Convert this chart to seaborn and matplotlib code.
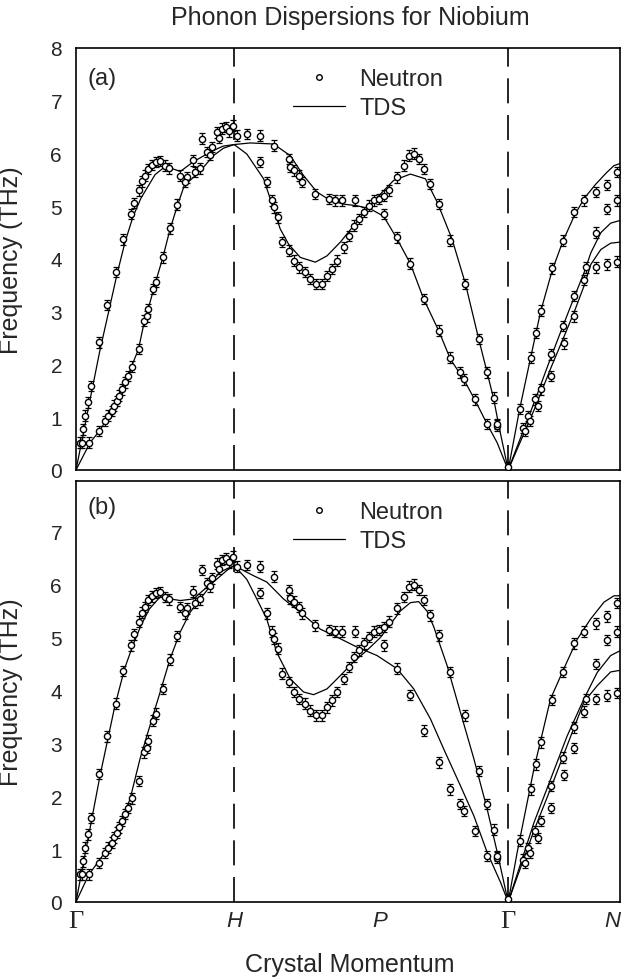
import numpy as np
import pandas as pd
import matplotlib
matplotlib.use("Agg")
import matplotlib.pyplot as plt
import seaborn as sns
from matplotlib.lines import Line2D

# symmetry points along the bcc path (units of 2pi/a)
sym_pos = [0.0, 1.0, 1.92, 2.732, 3.439]
sym_labels = ["Γ", "H", "P", "Γ", "N"]
dash_pos = [1.0, 2.732]

# ---- neutron data (same set in both panels) ----
gh_t_x = [0.025, 0.046, 0.057, 0.078, 0.093, 0.148, 0.198, 0.253, 0.300, 0.348, 0.369, 0.401,
          0.416, 0.437, 0.458, 0.479, 0.506, 0.532, 0.563, 0.591]
gh_t_y = [0.52, 0.77, 1.03, 1.28, 1.59, 2.42, 3.13, 3.75, 4.37, 4.85, 5.06, 5.30,
          5.47, 5.58, 5.71, 5.78, 5.84, 5.86, 5.77, 5.72]
gh_h_x = [0.658, 0.700, 0.742, 0.753, 0.785, 0.795, 0.827, 0.850, 0.859, 0.890, 0.905,
          0.920, 0.950, 0.970, 0.990]
gh_h_y = [5.58, 5.55, 5.87, 5.65, 5.72, 6.28, 6.03, 5.97, 6.12, 6.40, 6.30,
          6.47, 6.50, 6.42, 6.53]
gh_l_x = [0.036, 0.084, 0.148, 0.184, 0.205, 0.226, 0.240, 0.257, 0.274, 0.289, 0.310, 0.331,
          0.352, 0.400, 0.430, 0.447, 0.458, 0.489, 0.506, 0.549, 0.595, 0.641, 0.690]
gh_l_y = [0.52, 0.52, 0.74, 0.93, 1.03, 1.12, 1.22, 1.31, 1.41, 1.53, 1.66, 1.78,
          1.96, 2.29, 2.83, 2.91, 3.05, 3.43, 3.56, 4.03, 4.58, 5.03, 5.46]
hp_u_x = [1.017, 1.080, 1.165, 1.249, 1.344, 1.354, 1.376, 1.407, 1.428, 1.513, 1.597, 1.639,
          1.681, 1.766]
hp_u_y = [6.34, 6.37, 6.34, 6.15, 5.90, 5.74, 5.68, 5.58, 5.46, 5.23, 5.14, 5.11,
          5.11, 5.11]
hp_l_x = [1.165, 1.207, 1.238, 1.249, 1.280, 1.302, 1.344, 1.376, 1.407, 1.449, 1.481, 1.519,
          1.555, 1.587, 1.618, 1.650, 1.692, 1.724, 1.755, 1.787, 1.818, 1.850, 1.882, 1.913,
          1.945, 1.977, 2.030, 2.072, 2.103, 2.135, 2.166, 2.198, 2.240, 2.293, 2.367, 2.462,
          2.546, 2.599, 2.641, 2.662]
hp_l_y = [5.84, 5.46, 5.11, 4.98, 4.79, 4.32, 4.16, 3.97, 3.84, 3.75, 3.62, 3.53,
          3.53, 3.68, 3.81, 3.97, 4.22, 4.44, 4.63, 4.76, 4.89, 5.01, 5.11, 5.14,
          5.20, 5.30, 5.55, 5.77, 5.96, 6.00, 5.90, 5.71, 5.42, 5.04, 4.35, 3.53,
          2.48, 1.85, 1.37, 0.84]
pg_x = [1.945, 2.030, 2.114, 2.198, 2.293, 2.367, 2.430, 2.451, 2.525, 2.599, 2.662, 2.732]
pg_y = [4.85, 4.41, 3.91, 3.24, 2.64, 2.13, 1.85, 1.72, 1.34, 0.87, 0.87, 0.05]
gn_t_x = [2.805, 2.874, 2.906, 2.937, 3.010, 3.077, 3.150, 3.213, 3.286, 3.355, 3.422]
gn_t_y = [1.16, 2.13, 2.60, 3.02, 3.82, 4.35, 4.89, 5.11, 5.27, 5.40, 5.65]
gn_m_x = [2.826, 2.858, 2.899, 2.937, 3.004, 3.077, 3.150, 3.224, 3.286, 3.355, 3.422]
gn_m_y = [0.80, 1.02, 1.34, 1.53, 2.19, 2.73, 3.30, 3.84, 4.50, 4.95, 5.11]
gn_l_x = [2.837, 2.868, 2.920, 3.004, 3.088, 3.150, 3.213, 3.286, 3.359, 3.422]
gn_l_y = [0.74, 0.93, 1.21, 1.78, 2.40, 2.91, 3.60, 3.84, 3.90, 3.95]
neutron_err = 0.1

# ---- TDS curves, panel (a) ----
a_t_x = [0, 0.09, 0.15, 0.21, 0.26, 0.31, 0.36, 0.41, 0.45, 0.50, 0.55, 0.60, 0.66, 0.74, 0.85, 0.93, 1.0]
a_t_y = [0, 1.35, 2.25, 3.05, 3.72, 4.32, 4.80, 5.15, 5.35, 5.60, 5.72, 5.72, 5.66, 5.84, 6.03, 6.14, 6.17]
a_l_x = [0, 0.089, 0.148, 0.194, 0.236, 0.278, 0.321, 0.352, 0.395, 0.426, 0.468, 0.506, 0.549,
         0.595, 0.641, 0.684, 0.743, 0.806, 0.869, 0.932, 1.0]
a_l_y = [0, 0.52, 0.74, 0.96, 1.22, 1.47, 1.72, 1.97, 2.29, 2.73, 3.18, 3.59, 4.03,
         4.57, 5.01, 5.39, 5.55, 5.74, 5.96, 6.10, 6.17]
a_hu_x = [1.0, 1.101, 1.249, 1.354, 1.439, 1.523, 1.608, 1.692, 1.776, 1.861, 1.945, 2.030, 2.114,
          2.198, 2.293, 2.367, 2.451, 2.525, 2.599, 2.662, 2.732]
a_hu_y = [6.17, 6.20, 6.18, 5.96, 5.58, 5.27, 5.11, 5.04, 5.01, 4.95, 4.81, 4.38, 3.91,
          3.24, 2.64, 2.10, 1.72, 1.31, 0.87, 0.52, 0.0]
a_hl_x = [1.0, 1.080, 1.186, 1.249, 1.291, 1.344, 1.418, 1.513, 1.587, 1.671, 1.755, 1.840, 1.924,
          2.008, 2.114, 2.209, 2.283, 2.377, 2.462, 2.546, 2.599, 2.641, 2.673, 2.732]
a_hl_y = [6.17, 5.99, 5.52, 4.95, 4.57, 4.28, 4.03, 3.94, 4.06, 4.32, 4.63, 4.95, 5.23,
          5.49, 5.61, 5.52, 5.08, 4.38, 3.53, 2.48, 1.85, 1.34, 0.84, 0.0]
a_nt_x = [2.732, 2.805, 2.874, 2.937, 3.010, 3.077, 3.150, 3.213, 3.286, 3.355, 3.401, 3.439]
a_nt_y = [0, 1.16, 2.13, 3.00, 3.78, 4.33, 4.82, 5.15, 5.42, 5.64, 5.77, 5.81]
a_nm_x = [2.732, 2.899, 3.004, 3.077, 3.150, 3.213, 3.255, 3.318, 3.380, 3.439]
a_nm_y = [0, 1.30, 2.15, 2.72, 3.28, 3.75, 4.12, 4.50, 4.68, 4.73]
a_nl_x = [2.732, 2.899, 3.004, 3.088, 3.150, 3.213, 3.255, 3.318, 3.380, 3.439]
a_nl_y = [0, 1.16, 1.95, 2.55, 3.00, 3.50, 3.90, 4.18, 4.30, 4.32]

# ---- TDS curves, panel (b) ----
b_t_x = [0, 0.152, 0.246, 0.307, 0.359, 0.411, 0.464, 0.532, 0.595, 0.660, 0.742, 0.826, 0.911, 1.0]
b_t_y = [0, 2.39, 3.71, 4.41, 4.85, 5.23, 5.54, 5.77, 5.73, 5.70, 5.73, 5.95, 6.24, 6.36]
b_l_x = [0, 0.078, 0.152, 0.215, 0.278, 0.342, 0.405, 0.468, 0.532, 0.595, 0.658, 0.722, 0.785,
         0.869, 0.954, 1.0]
b_l_y = [0, 0.50, 0.81, 1.07, 1.45, 1.95, 2.71, 3.34, 3.97, 4.60, 5.10, 5.48, 5.73,
         6.05, 6.27, 6.36]
b_hu_x = [1.0, 1.122, 1.206, 1.312, 1.418, 1.544, 1.629, 1.776, 1.903, 2.030, 2.135, 2.241, 2.325,
          2.430, 2.515, 2.599, 2.684, 2.732]
b_hu_y = [6.36, 6.17, 6.05, 5.73, 5.48, 5.16, 5.04, 4.82, 4.66, 4.41, 4.03, 3.46, 2.89,
          2.20, 1.63, 0.94, 0.37, 0.0]
b_hl_x = [1.0, 1.080, 1.143, 1.206, 1.269, 1.354, 1.439, 1.502, 1.587, 1.671, 1.755, 1.840, 1.924,
          1.987, 2.050, 2.114, 2.166, 2.219, 2.262, 2.346, 2.430, 2.515, 2.599, 2.663, 2.732]
b_hl_y = [6.36, 6.10, 5.73, 5.35, 4.72, 4.22, 3.97, 3.92, 4.03, 4.28, 4.54, 4.76, 5.00,
          5.25, 5.50, 5.66, 5.68, 5.50, 5.20, 4.47, 3.59, 2.71, 1.76, 0.94, 0.0]
b_nt_x = [2.732, 2.789, 2.895, 3.000, 3.084, 3.169, 3.253, 3.338, 3.401, 3.439]
b_nt_y = [0, 0.94, 2.52, 3.84, 4.41, 4.97, 5.35, 5.67, 5.79, 5.79]
b_nm_x = [2.732, 2.895, 3.000, 3.105, 3.211, 3.295, 3.380, 3.439]
b_nm_y = [0, 1.50, 2.32, 3.14, 3.84, 4.34, 4.66, 4.75]
b_nl_x = [2.732, 2.895, 3.000, 3.105, 3.211, 3.295, 3.380, 3.439]
b_nl_y = [0, 1.35, 2.14, 2.96, 3.78, 4.09, 4.35, 4.38]


def to_long(branches):
    parts = [pd.DataFrame({"k": xs, "f": ys, "branch": i}) for i, (xs, ys) in enumerate(branches)]
    return pd.concat(parts, ignore_index=True)


neutron = to_long([(gh_t_x, gh_t_y), (gh_h_x, gh_h_y), (gh_l_x, gh_l_y), (hp_u_x, hp_u_y),
                   (hp_l_x, hp_l_y), (pg_x, pg_y), (gn_t_x, gn_t_y), (gn_m_x, gn_m_y),
                   (gn_l_x, gn_l_y)])
tds_a = to_long([(a_t_x, a_t_y), (a_l_x, a_l_y), (a_hu_x, a_hu_y), (a_hl_x, a_hl_y),
                 (a_nt_x, a_nt_y), (a_nm_x, a_nm_y), (a_nl_x, a_nl_y)])
tds_b = to_long([(b_t_x, b_t_y), (b_l_x, b_l_y), (b_hu_x, b_hu_y), (b_hl_x, b_hl_y),
                 (b_nt_x, b_nt_y), (b_nm_x, b_nm_y), (b_nl_x, b_nl_y)])

sns.set_style("white")
plt.rcParams["font.family"] = ["Liberation Sans", "DejaVu Sans"]

W, H = 621, 979
fig = plt.figure(figsize=(W / 100, H / 100), dpi=100)
ax_a = fig.add_axes([76 / W, 1 - 471 / H, 544 / W, 422 / H])
ax_b = fig.add_axes([76 / W, 1 - 903 / H, 544 / W, 421 / H])


def draw_panel(ax, tds, tag, ymax, yticks):
    for xv in dash_pos:
        ax.axvline(xv, color="black", lw=1.2, dashes=(15, 7), zorder=1)
    sns.lineplot(data=tds, x="k", y="f", units="branch", estimator=None, sort=False,
                 color="black", lw=0.9, ax=ax, legend=False, zorder=2)
    ax.errorbar(neutron["k"], neutron["f"], yerr=neutron_err, fmt="none", ecolor="black",
                elinewidth=0.9, capsize=2.5, capthick=0.9, zorder=3)
    sns.scatterplot(data=neutron, x="k", y="f", marker="o", s=20, fc="white", ec="black",
                    linewidth=1.0, ax=ax, legend=False, zorder=4)
    ax.set_xlim(sym_pos[0], sym_pos[-1])
    ax.set_ylim(0, ymax)
    ax.set_yticks(yticks)
    ax.tick_params(axis="y", direction="in", length=5, width=1, labelsize=15, pad=10)
    ax.tick_params(axis="x", length=0)
    for sp in ax.spines.values():
        sp.set_linewidth(1.2)
        sp.set_color("black")
    ax.set_xlabel("")
    ax.set_ylabel("Frequency (THz)", fontsize=18)
    ax.yaxis.set_label_coords(-0.097, 0.5)
    ax.text(0.022, 0.93 if tag == "(a)" else 0.938, tag, transform=ax.transAxes,
            fontsize=17, va="center", ha="left")
    handles = [Line2D([], [], ls="none", marker="o", ms=4, mfc="white", mec="black", mew=1),
               Line2D([], [], color="black", lw=0.9)]
    ax.legend(handles, ["Neutron", "TDS"], loc="upper left", bbox_to_anchor=(0.399, 0.953),
              frameon=False, fontsize=17, handlelength=2.2, handletextpad=0.6,
              labelspacing=0.3, borderpad=0, borderaxespad=0)


draw_panel(ax_a, tds_a, "(a)", 8.0, range(0, 9))
draw_panel(ax_b, tds_b, "(b)", 7.96, range(0, 8))

ax_a.set_xticks([])
ax_b.set_xticks(sym_pos)
ax_b.set_xticklabels(sym_labels)
for lab in ax_b.get_xticklabels():
    if lab.get_text() == "Γ":
        lab.set_fontfamily(["Liberation Serif", "DejaVu Serif"])
        lab.set_fontsize(19)
    else:
        lab.set_fontstyle("italic")
        lab.set_fontsize(16)
# the last label sits on the right border: keep it inside the picture
ax_b.get_xticklabels()[-1].set_horizontalalignment("right")
ax_b.tick_params(axis="x", pad=6)

fig.text(350 / W, 1 - 18 / H, "Phonon Dispersions for Niobium", ha="center", va="center", fontsize=18)
fig.text(350 / W, 1 - 965 / H, "Crystal Momentum", ha="center", va="center", fontsize=18)

fig.savefig("out.png", dpi=100)
